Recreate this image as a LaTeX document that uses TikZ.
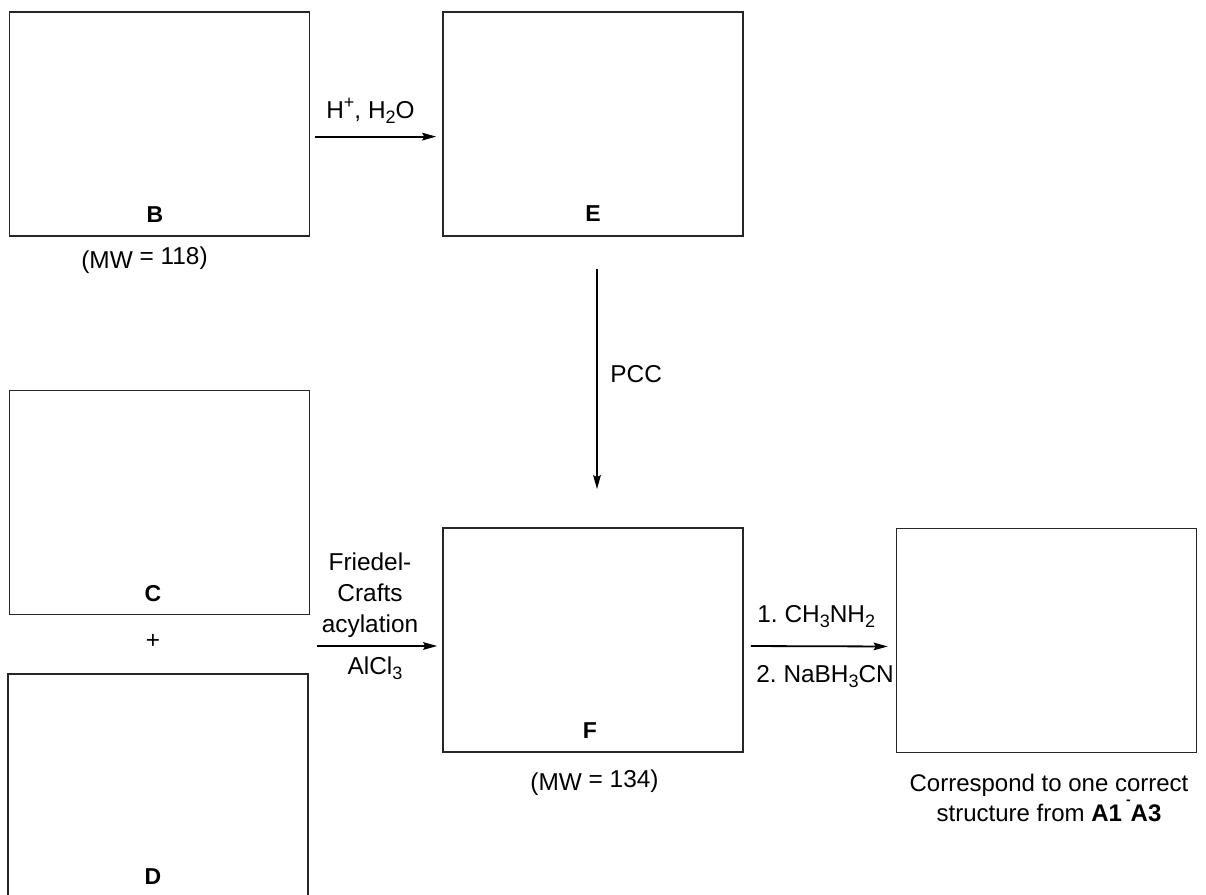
\documentclass[tikz,border=0pt]{standalone}
\usepackage{fontspec}
\setmainfont{Liberation Sans}
\usetikzlibrary{arrows.meta,positioning}
\newcommand{\chsub}[1]{\raisebox{-2.6pt}{\fontsize{9}{9}\selectfont #1}}
\newcommand{\chsup}[1]{\raisebox{5pt}{\fontsize{9}{9}\selectfont #1}}

\begin{document}
\begin{tikzpicture}[
      x=0.5pt,y=-0.5pt,
      font=\fontsize{12.2}{15.5}\selectfont\frenchspacing,
      cmpd/.style={rectangle,draw=black!85,line width=0.8pt,minimum width=150pt,minimum height=112pt,inner sep=0pt},
      tag/.style={anchor=base,inner sep=0pt,font=\fontsize{11.5}{14}\selectfont\bfseries},
      cond/.style={align=center,inner sep=0pt},
      arrow/.style={-{Stealth[length=7pt,width=3.8pt,inset=1pt]},line width=0.9pt}
    ]
    \useasboundingbox (0,0) rectangle (1206,895);
    % compound boxes
    \node[cmpd] (B) at (159.5,124) {};
    \node[cmpd] (E) at (593,124) {};
    \node[cmpd] (C) at (159.5,502.5) {};
    \node[cmpd] (D) at (158,786) {};
    \node[cmpd] (F) at (593,640) {};
    \node[cmpd] (G) at (1046.5,640.5) {};
    \node[tag] (Blab) at (155,222.5) {B};
    \node[tag] (Elab) at (593,221) {E};
    \node[tag] (Clab) at (153,601) {C};
    \node[tag] (Dlab) at (153,884) {D};
    \node[tag] (Flab) at (590,738.5) {F};
    \node (plus) at (153,641) {+};
    \node[cond,anchor=base] (mwB) at (144.5,268) {(MW \raisebox{2pt}{= 118)}};
    \node[cond,anchor=base] (mwF) at (594.5,790) {(MW \raisebox{1.5pt}{= 134)}};
    \node[cond,anchor=north,font=\fontsize{12}{15}\selectfont] (note) at (1049,774)
      {Correspond to one correct\\structure from \textbf{A1\,\raisebox{8.6pt}{\fontsize{7}{7}\selectfont -}A3}};
    % reaction arrows
    \draw[arrow,shorten <=2.5pt,shorten >=3pt] ([yshift=-6.3pt]B.east) -- ([yshift=-6.3pt]E.west);
    \draw[arrow,shorten <=16pt,shorten >=19pt] ([xshift=2pt]E.south) -- ([xshift=2pt]F.north);
    \draw[arrow,shorten <=3.5pt,shorten >=2.5pt] ([yshift=-3pt]F.west -| C.east) -- ([yshift=-3pt]F.west);
    \draw[arrow,shorten <=3.5pt,shorten >=4pt] ([yshift=-3pt]F.east) -- ([yshift=-3pt]G.west);
    % conditions
    \node[cond,anchor=base] (acid) at (370.5,118.5) {H\chsup{+}, H\chsub{2}O};
    \node[cond,anchor=base west] (pcc) at (610,382) {PCC};
    \node[cond,anchor=south] (fc) at (370,638) {Friedel-\\Crafts\\acylation};
    \node[cond,anchor=north] (alcl) at (375,656) {AlCl\chsub{3}};
    \node[cond,anchor=base west] (amine) at (757,622) {1. CH\chsub{3}NH\chsub{2}};
    \node[cond,anchor=base west] (redn) at (756,682) {2. NaBH\chsub{3}CN};
  \end{tikzpicture}
\end{document}
